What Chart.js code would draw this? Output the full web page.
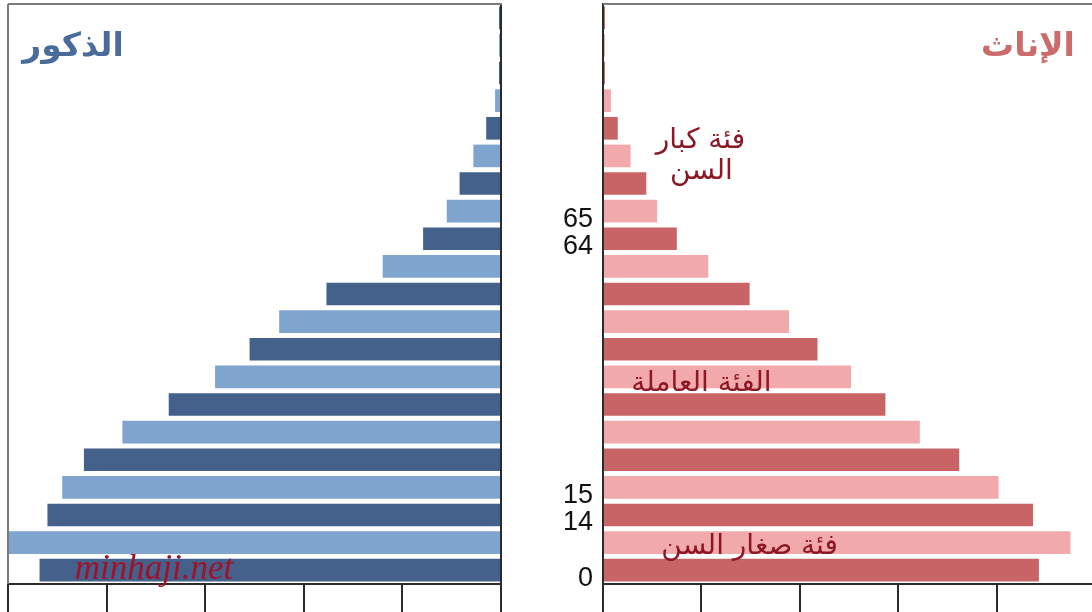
<!DOCTYPE html>
<html>
<head>
<meta charset="utf-8">
<script src="https://cdn.jsdelivr.net/npm/chart.js@4/dist/chart.umd.min.js"></script>
<style>
  html, body { margin: 0; padding: 0; background: #fff; overflow: hidden; }
  body { width: 1092px; height: 612px; position: relative; }
  canvas { position: absolute; top: 0; }
  #maleChart { left: 0; }
  #femaleChart { left: 555px; }
</style>
</head>
<body>
<canvas id="maleChart" width="503" height="612"></canvas>
<canvas id="femaleChart" width="540" height="612"></canvas>
<script>
// age groups, youngest first (0-4 ... 100+)
const ageGroups = ["0-4", "5-9", "10-14", "15-19", "20-24", "25-29", "30-34", "35-39",
  "40-44", "45-49", "50-54", "55-59", "60-64", "65-69", "70-74", "75-79",
  "80-84", "85-89", "90-94", "95-99", "100+"];
const males = [4.68, 5.0, 4.6, 4.45, 4.23, 3.84, 3.37, 2.9, 2.55, 2.25, 1.77,
  1.2, 0.79, 0.55, 0.42, 0.28, 0.15, 0.06, 0.02, 0.02, 0.02];
const females = [4.43, 4.75, 4.37, 4.02, 3.62, 3.22, 2.87, 2.52, 2.18, 1.89, 1.49,
  1.07, 0.75, 0.55, 0.44, 0.28, 0.15, 0.08, 0.02, 0.02, 0.02];
const ageTicks = ["0", "", "14", "15", "", "", "", "", "", "", "", "",
  "64", "65", "", "", "", "", "", "", ""];
const notes = [
  { text: "فئة كبار", x: 0.99, y: 15.55 },
  { text: "السن", x: 1.0, y: 14.42 },
  { text: "الفئة العاملة", x: 1.0, y: 6.75 },
  { text: "فئة صغار السن", x: 1.49, y: 0.85 },
];

const maleColors = ["#43618a", "#7fa5cf"];
const femaleColors = ["#c86465", "#f2a9ab"];
const axisColor = "#2b2b2b";
const frameColor = "#7a7a7a";

const arabicFont = "'DejaVu Sans', 'Noto Sans', sans-serif";

// gray frame + texts drawn on top of the bars
const decor = {
  id: "decor",
  afterDraw(chart, args, opts) {
    const { ctx, chartArea: a, scales } = chart;
    ctx.save();
    ctx.strokeStyle = frameColor;
    ctx.lineWidth = 2;
    ctx.beginPath();
    ctx.moveTo(a.left, a.top);
    ctx.lineTo(a.right + 1, a.top);
    if (opts.side === "left") {
      ctx.moveTo(a.left, a.top);
      ctx.lineTo(a.left, a.bottom);
    }
    ctx.stroke();

    // panel title
    ctx.font = "bold 33px " + arabicFont;
    ctx.fillStyle = opts.titleColor;
    ctx.textBaseline = "middle";
    ctx.textAlign = "center";
    ctx.fillText(opts.title, opts.titleX, 47);

    ctx.fillStyle = "#8c1826";
    ctx.font = "28px " + arabicFont;
    (opts.notes || []).forEach((n) => {
      ctx.fillText(n.text, scales.x.getPixelForValue(n.x), scales.y.getPixelForValue(n.y));
    });

    if (opts.mark) {
      ctx.font = "italic 35px 'Liberation Serif', serif";
      ctx.fillStyle = "#a3102a";
      ctx.fillText(opts.mark.text, scales.x.getPixelForValue(opts.mark.x), scales.y.getPixelForValue(opts.mark.y));
    }
    ctx.restore();
  },
};

function barColors(colors) {
  return ageGroups.map((_, i) => colors[i % 2]);
}

function xAxis(reverse) {
  return {
    type: "linear",
    min: 0,
    max: 5,
    reverse: reverse,
    ticks: { display: false, stepSize: 1 },
    grid: { drawOnChartArea: false, tickLength: 28, color: axisColor, lineWidth: 2 },
    border: { color: axisColor, width: 2 },
  };
}

function noEdgePadding(s, width) {
  s.width = width;
  s.paddingTop = 0;
  s.paddingBottom = 0;
}

new Chart(document.getElementById("maleChart"), {
  type: "bar",
  data: {
    labels: ageGroups,
    datasets: [{
      data: males,
      backgroundColor: barColors(maleColors),
      barPercentage: 0.82,
      categoryPercentage: 1,
    }],
  },
  options: {
    responsive: false,
    animation: false,
    indexAxis: "y",
    layout: { padding: { left: 8, top: 4, right: 2 } },
    scales: {
      x: xAxis(true),
      y: {
        type: "category",
        position: "right",
        reverse: true,
        ticks: { display: false },
        grid: { display: false, drawTicks: false },
        border: { color: axisColor, width: 2 },
        afterFit: (s) => noEdgePadding(s, 0),
      },
    },
    plugins: {
      legend: { display: false },
      tooltip: { enabled: false },
      decor: {
        side: "left",
        title: "الذكور",
        titleColor: "#4a6c9b",
        titleX: 73,
        mark: { text: "minhaji.net", x: 3.52, y: 0 },
      },
    },
  },
  plugins: [decor],
});

new Chart(document.getElementById("femaleChart"), {
  type: "bar",
  data: {
    labels: ageGroups,
    datasets: [{
      data: females,
      backgroundColor: barColors(femaleColors),
      barPercentage: 0.82,
      categoryPercentage: 1,
    }],
  },
  options: {
    responsive: false,
    animation: false,
    indexAxis: "y",
    layout: { padding: { top: 4 } },
    scales: {
      x: xAxis(false),
      y: {
        type: "category",
        position: "left",
        reverse: true,
        ticks: {
          autoSkip: false,
          padding: 10,
          labelOffset: 8,
          color: "#111",
          font: { family: "'Liberation Sans', Arial, sans-serif", size: 27 },
          callback: (v) => ageTicks[v],
        },
        grid: { display: false, drawTicks: false },
        border: { color: axisColor, width: 2 },
        afterFit: (s) => noEdgePadding(s, 48),
      },
    },
    plugins: {
      legend: { display: false },
      tooltip: { enabled: false },
      decor: {
        side: "right",
        title: "الإناث",
        titleColor: "#cd6a6a",
        titleX: 473,
        notes: notes,
      },
    },
  },
  plugins: [decor],
});
</script>
</body>
</html>
